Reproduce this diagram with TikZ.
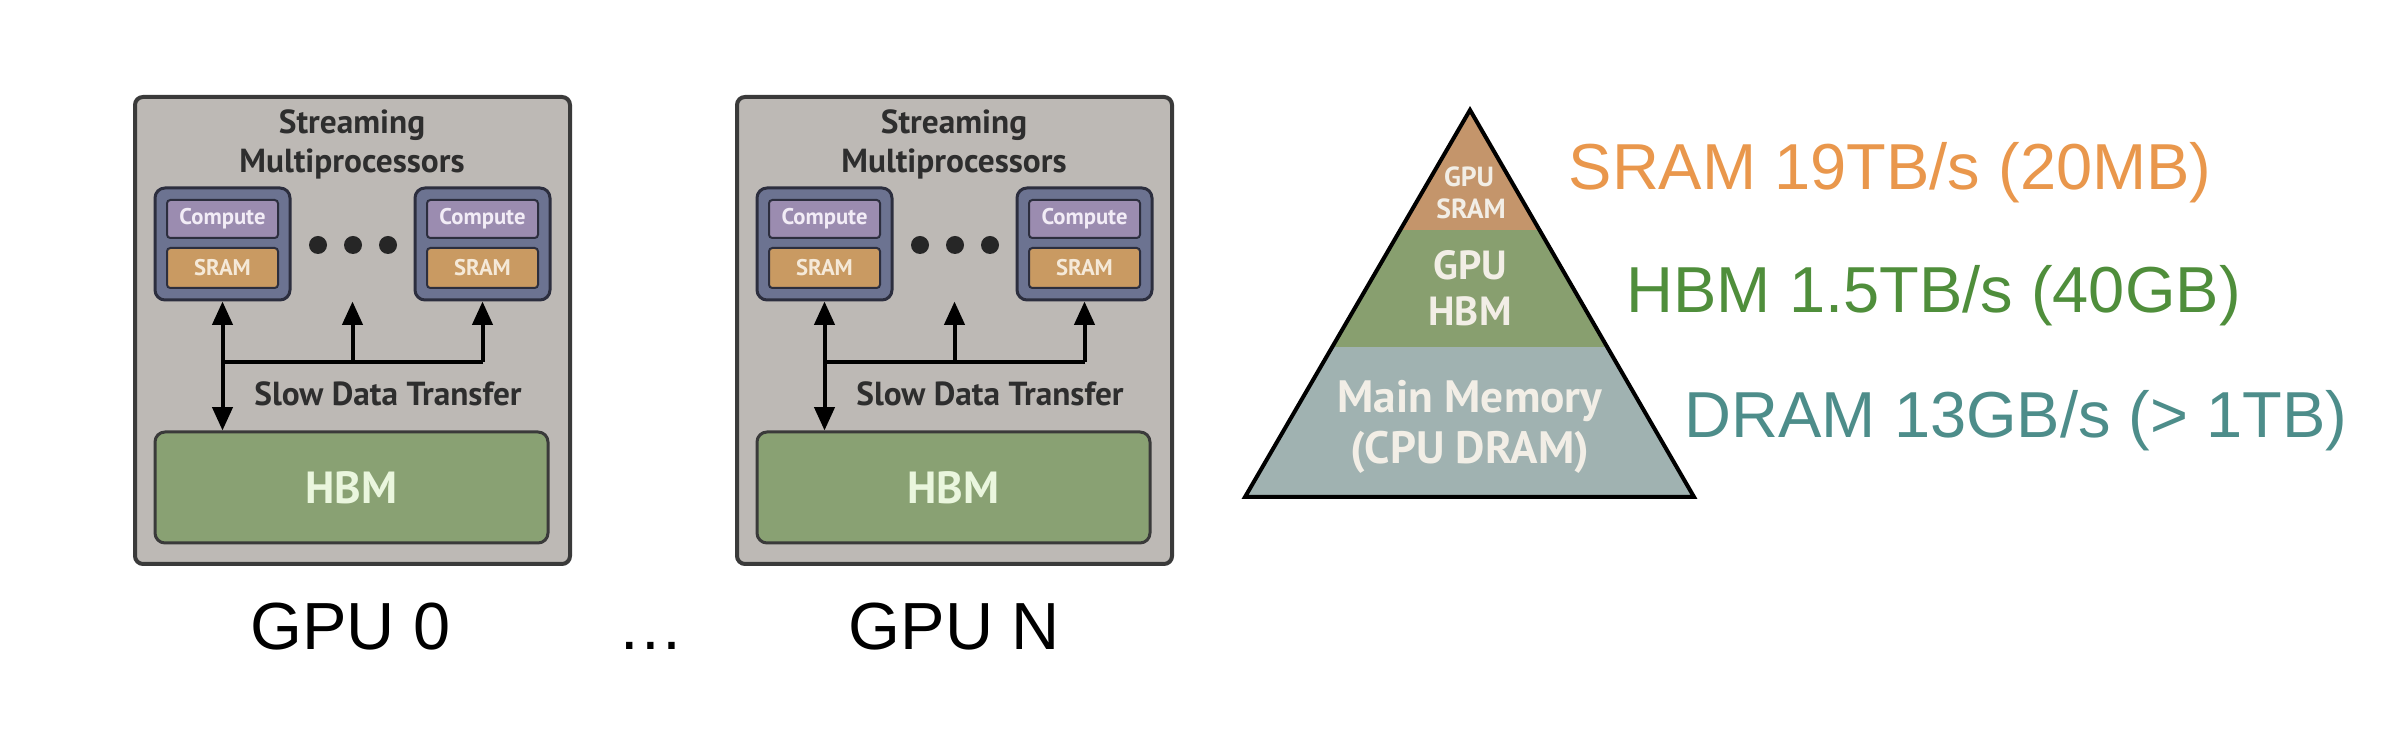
\documentclass[tikz,border=0pt]{standalone}
\usepackage{fontspec}
\setmainfont{Liberation Sans}
\newfontfamily\innerfont{PT Sans}
\usetikzlibrary{arrows.meta}
\definecolor{gpubg}{HTML}{BDB9B5}
\definecolor{gpuedge}{HTML}{3A3A3A}
\definecolor{smfill}{HTML}{6C7391}
\definecolor{smedge}{HTML}{2C2E3E}
\definecolor{compfill}{HTML}{9B8CB0}
\definecolor{comptext}{HTML}{F2ECF6}
\definecolor{sramfill}{HTML}{C99A62}
\definecolor{sramtext}{HTML}{F5E9D8}
\definecolor{hbmfill}{HTML}{89A173}
\definecolor{hbmtext}{HTML}{EAF6DE}
\definecolor{titletext}{HTML}{2E2E2E}
\definecolor{pyrsram}{HTML}{C4956B}
\definecolor{pyrhbm}{HTML}{889F6F}
\definecolor{pyrdram}{HTML}{A0B2B1}
\definecolor{pyrtext}{HTML}{F2EEE6}
\definecolor{lsram}{HTML}{E9974C}
\definecolor{lhbm}{HTML}{4F8E3B}
\definecolor{ldram}{HTML}{4D8D8A}
\begin{document}
\begin{tikzpicture}[x=0.3pt,y=-0.3pt,
  gpubox/.style={draw=gpuedge, fill=gpubg, line width=1.2pt, rounded corners=2.4pt, minimum width=130.5pt, minimum height=140.1pt, inner sep=0pt},
  smbox/.style={draw=smedge, fill=smfill, line width=0.9pt, rounded corners=3pt, minimum width=40.5pt, minimum height=33.6pt, inner sep=0pt},
  compbox/.style={draw=smedge, fill=compfill, line width=0.6pt, rounded corners=1pt, minimum width=33.3pt, minimum height=11.4pt, inner sep=0pt, text=comptext, font=\innerfont\bfseries\fontsize{6.8pt}{7pt}\selectfont},
  srambox/.style={draw=smedge, fill=sramfill, line width=0.6pt, rounded corners=1pt, minimum width=33.3pt, minimum height=12pt, inner sep=0pt, text=sramtext, font=\innerfont\bfseries\fontsize{6.8pt}{7pt}\selectfont},
  hbmbox/.style={draw=gpuedge, fill=hbmfill, line width=0.9pt, rounded corners=3pt, minimum width=117.9pt, minimum height=33.3pt, inner sep=0pt, text=hbmtext, font=\innerfont\bfseries\fontsize{13.5pt}{15pt}\selectfont},
  title/.style={font=\innerfont\bfseries\fontsize{10pt}{12pt}\selectfont, text=titletext, anchor=base, inner sep=0pt},
  dotnode/.style={circle, fill=black!85, minimum size=5.4pt, inner sep=0pt},
  bus/.style={line width=1.2pt, draw=black},
  tip/.style={-{Triangle[length=7pt,width=6pt]}},
  bitip/.style={{Triangle[length=7pt,width=6pt]}-{Triangle[length=7pt,width=6pt]}},
  gpulab/.style={font=\fontsize{20pt}{24pt}\selectfont, anchor=base, inner sep=0pt},
  pyrsmall/.style={font=\innerfont\bfseries\fontsize{8.3pt}{9pt}\selectfont, text=pyrtext, anchor=base, inner sep=0pt},
  pyrmid/.style={font=\innerfont\bfseries\fontsize{12.2pt}{13pt}\selectfont, text=pyrtext, anchor=base, inner sep=0pt},
  pyrbig/.style={font=\innerfont\bfseries\fontsize{13.6pt}{14pt}\selectfont, text=pyrtext, anchor=base, inner sep=0pt},
  rlab/.style={font=\fontsize{19.5pt}{23pt}\selectfont, anchor=base west, inner sep=0pt}
]
\fill[white] (0,0) rectangle (2404,748);
\useasboundingbox (0,0) rectangle (2404,748);

\foreach \g/\dx in {0/0,N/602}{
\begin{scope}[shift={(\dx,0)}]
  \node[gpubox] (gpu\g) at (352.5,330.5) {};
  \node[title] (st\g) at (352,134) {Streaming};
  \node[title] (mp\g) at (352,173) {Multiprocessors};
  \node[smbox] (sma\g) at (222.5,244) {};
  \node[compbox] (ca\g) at (222.5,219) {Compute};
  \node[srambox] (sa\g) at (222.5,268) {SRAM};
  \node[smbox] (smb\g) at (482.5,244) {};
  \node[compbox] (cb\g) at (482.5,219) {Compute};
  \node[srambox] (sb\g) at (482.5,268) {SRAM};
  \node[dotnode] (da\g) at (318,245) {};
  \node[dotnode] (db\g) at (353,245) {};
  \node[dotnode] (dc\g) at (388,245) {};
  \node[hbmbox] (hbm\g) at (351.5,487.5) {HBM};
  \coordinate (ja\g) at (222.5,362);
  \coordinate (jb\g) at (352.5,362);
  \coordinate (jc\g) at (482.5,362);
  \draw[bus,bitip] (sma\g.south) -- (sma\g.south |- hbm\g.north);
  \draw[bus] (ja\g) -- (jc\g);
  \draw[bus,tip] (jb\g) -- (jb\g |- sma\g.south);
  \draw[bus,tip] (jc\g) -- (smb\g.south);
  \node[title] (sdt\g) at (388,406) {Slow Data Transfer};
\end{scope}
}

\node[gpulab] (lab0) at (350.5,650) {GPU 0};
\node[gpulab] (ell) at (651,650) {…};
\node[gpulab] (labN) at (954.5,650) {GPU N};

% pyramid
\coordinate (apex) at (1470,110);
\coordinate (bl) at (1245,497);
\coordinate (br) at (1694,497);
\begin{scope}
  \clip (apex) -- (bl) -- (br) -- cycle;
  \fill[pyrsram] (1200,100) rectangle (1750,230);
  \fill[pyrhbm] (1200,230) rectangle (1750,347);
  \fill[pyrdram] (1200,347) rectangle (1750,510);
\end{scope}
\draw[line width=1.2pt, line join=miter] (apex) -- (bl) -- (br) -- cycle;
\node[pyrsmall] (pgs) at (1469,187) {GPU};
\node[pyrsmall] (pss) at (1471,219) {SRAM};
\node[pyrmid] (pgh) at (1470,280) {GPU};
\node[pyrmid] (phh) at (1470,326) {HBM};
\node[pyrbig] (pmm) at (1470,413) {Main Memory};
\node[pyrbig] (pcd) at (1470,464) {(CPU DRAM)};

\node[rlab, text=lsram] (rs) at (1568,190) {SRAM 19TB/s (20MB)};
\node[rlab, text=lhbm] (rh) at (1626,313) {HBM 1.5TB/s (40GB)};
\node[rlab, text=ldram] (rd) at (1684,438) {DRAM 13GB/s (> 1TB)};
\end{tikzpicture}
\end{document}
